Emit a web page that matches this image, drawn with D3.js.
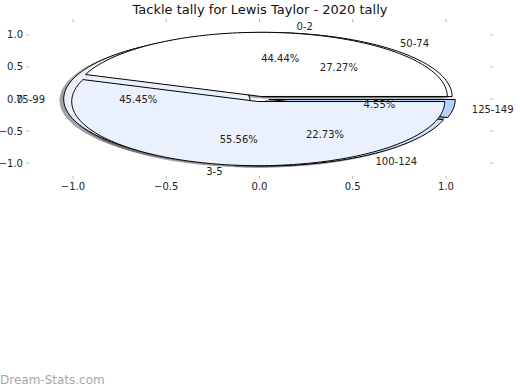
<!DOCTYPE html>
<html><head><meta charset="utf-8">
<script src="https://cdn.jsdelivr.net/npm/d3@7"></script>
<style>body{margin:0;background:#fff}svg{display:block}text{font-family:"DejaVu Sans",sans-serif}</style>
</head><body><svg id="c" width="520" height="390"></svg>
<script>
const innerLabels = ["0-2", "3-5"];
const innerValues = [4, 5];
const innerColors = ["#ffffff", "#eaf1fd"];
const outerLabels = ["50-74", "75-99", "100-124", "125-149"];
const outerValues = [6, 10, 5, 1];
const outerColors = ["#ffffff", "#eaf1fd", "#cddff8", "#b5d3f7"];
const xTicks = [-1.0, -0.5, 0.0, 0.5, 1.0];
const yTicks = [1.0, 0.5, 0.0, -0.5, -1.0];
const titleText = "Tackle tally for Lewis Taylor - 2020 tally";

const svg = d3.select("#c");
const L = 29, R = 490, T = 22, B = 176;
const x = d3.scaleLinear().domain([-1.236, 1.236]).range([L, R]);
const y = d3.scaleLinear().domain([-1.2, 1.2]).range([B, T]);

function wedges(values, explode) {
  const tot = d3.sum(values);
  let a = 0;
  return values.map((v, i) => {
    const a1 = a, a2 = a + 360 * v / tot; a = a2;
    const m = (a1 + a2) / 2 * Math.PI / 180;
    return {i, v, a1, a2, m, cx: explode * Math.cos(m), cy: explode * Math.sin(m), pct: 100 * v / tot};
  });
}
function pathPts(w, ox, oy) {
  const pts = [[w.cx + ox, w.cy + oy]];
  const n = Math.max(8, Math.ceil((w.a2 - w.a1) / 1.5));
  for (let k = 0; k <= n; k++) {
    const t = (w.a1 + (w.a2 - w.a1) * k / n) * Math.PI / 180;
    pts.push([w.cx + ox + Math.cos(t), w.cy + oy + Math.sin(t)]);
  }
  return pts;
}
const line = d3.line().x(d => x(d[0])).y(d => y(d[1])).curve(d3.curveLinearClosed);

const inner = wedges(innerValues, 0.04);
const outer = wedges(outerValues, 0.05);

function shade(c) { const r = d3.rgb(c); return d3.rgb(r.r * 0.3, r.g * 0.3, r.b * 0.3).toString(); }

// shadows
const gS = svg.append("g");
[[inner, innerColors], [outer, outerColors]].forEach(([ws, cols]) => {
  ws.forEach(w => {
    gS.append("path").attr("d", line(pathPts(w, -0.02, -0.02)))
      .attr("fill", shade(cols[w.i])).attr("stroke", shade(cols[w.i])).attr("stroke-width", 1)
      .attr("opacity", 0.5);
  });
});
// wedges: outer pie first, inner on top
[[outer, outerColors], [inner, innerColors]].forEach(([ws, cols]) => {
  ws.forEach(w => {
    svg.append("path").attr("d", line(pathPts(w, 0, 0)))
      .attr("fill", cols[w.i]).attr("stroke", "#000").attr("stroke-width", 1)
      .attr("stroke-linejoin", "round");
  });
});

// labels
function addLabels(ws, labels) {
  ws.forEach(w => {
    const lx = w.cx + 1.1 * Math.cos(w.m), ly = w.cy + 1.1 * Math.sin(w.m);
    svg.append("text").attr("x", x(lx)).attr("y", y(ly)).attr("dy", "0.35em")
      .attr("text-anchor", lx > 0 ? "start" : "end").attr("font-size", 10).attr("fill", "#222")
      .text(labels[w.i]);
    const px = w.cx + 0.6 * Math.cos(w.m), py = w.cy + 0.6 * Math.sin(w.m);
    svg.append("text").attr("x", x(px)).attr("y", y(py)).attr("dy", "0.35em")
      .attr("text-anchor", "middle").attr("font-size", 10).attr("fill", "#222")
      .text(w.pct.toFixed(2) + "%");
  });
}
addLabels(inner, innerLabels);
addLabels(outer, outerLabels);

// ticks
const tc = "#b8b8b8";
xTicks.forEach(t => {
  svg.append("line").attr("x1", x(t)).attr("x2", x(t)).attr("y1", B).attr("y2", B + 3).attr("stroke", tc);
  svg.append("line").attr("x1", x(t)).attr("x2", x(t)).attr("y1", T - 3).attr("y2", T).attr("stroke", tc);
  svg.append("text").attr("x", x(t)).attr("y", B + 10).attr("dy", "0.35em").attr("text-anchor", "middle")
    .attr("font-size", 10).attr("fill", "#222").text(d3.format(".1f")(t).replace("-", "\u2212"));
});
yTicks.forEach(t => {
  svg.append("line").attr("x1", L - 3).attr("x2", L).attr("y1", y(t)).attr("y2", y(t)).attr("stroke", tc);
  svg.append("line").attr("x1", R).attr("x2", R + 3).attr("y1", y(t)).attr("y2", y(t)).attr("stroke", tc);
  svg.append("text").attr("x", L - 6).attr("y", y(t)).attr("dy", "0.35em").attr("text-anchor", "end")
    .attr("font-size", 10).attr("fill", "#222").text(d3.format(".1f")(t).replace("-", "\u2212"));
});

svg.append("text").attr("x", 260).attr("y", 14).attr("text-anchor", "middle")
  .attr("font-size", 13).attr("fill", "#111").text(titleText);
svg.append("text").attr("x", 0).attr("y", 384).attr("font-size", 12).attr("fill", "#a8a8a8")
  .text("Dream-Stats.com");
</script></body></html>
